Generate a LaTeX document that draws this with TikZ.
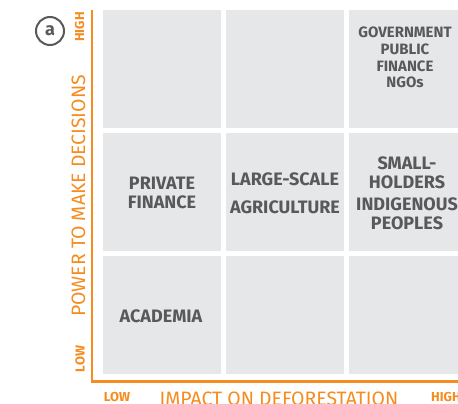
\documentclass[tikz,border=0pt]{standalone}
\usepackage{fontspec}
\setmainfont{Fira Sans}
\definecolor{orng}{HTML}{F68B1F}
\definecolor{txtgray}{HTML}{58595B}
\definecolor{cellgray}{HTML}{E6E7E8}
\begin{document}
\begin{tikzpicture}[x=1pt,y=-1pt,
  cell/.style={fill=cellgray,minimum size=118pt,inner sep=0pt,outer sep=0pt},
  celltxt/.style={text=txtgray,font=\bfseries\fontsize{18}{20}\selectfont,anchor=base,inner sep=0pt},
  smalltxt/.style={text=txtgray,font=\bfseries\fontsize{15}{17}\selectfont,anchor=base,inner sep=0pt},
  axtitle/.style={text=orng,font=\fontsize{19.4}{21}\selectfont,inner sep=0pt},
  axend/.style={text=orng,font=\bfseries\fontsize{13}{15}\selectfont,inner sep=0pt},
  axline/.style={draw=orng,line width=2.5pt}]
\useasboundingbox (0,0) rectangle (458,404);
% cells
\node[cell] (c11) at (162,69) {};
\node[cell] (c12) at (285,69) {};
\node[cell] (c13) at (408,69) {};
\node[cell] (c21) at (162,192) {};
\node[cell] (c22) at (285,192) {};
\node[cell] (c23) at (408,192) {};
\node[cell] (c31) at (162,315) {};
\node[cell] (c32) at (285,315) {};
\node[cell] (c33) at (408,315) {};
% cell texts
\node[smalltxt] (gov1) at (405,37.5) {GOVERNMENT};
\node[smalltxt] (gov2) at (405,54.5) {PUBLIC};
\node[smalltxt] (gov3) at (405,71.5) {FINANCE};
\node[smalltxt] (gov4) at (405,87.5) {NGOs};
\node[celltxt] (pf1) at (162,189.2) {PRIVATE};
\node[celltxt] (pf2) at (162,208.5) {FINANCE};
\node[celltxt] (ls1) at (285,185.8) {LARGE-SCALE};
\node[celltxt] (ls2) at (285,213.2) {AGRICULTURE};
\node[celltxt] (sh1) at (407,169.9) {SMALL-};
\node[celltxt] (sh2) at (407,188.6) {HOLDERS};
\node[celltxt] (sh3) at (407,210.2) {INDIGENOUS};
\node[celltxt] (sh4) at (407,229.2) {PEOPLES};
\node[celltxt] (ac) at (161,322.2) {ACADEMIA};
% axes
\coordinate (ytop) at (92,10);
\coordinate (orig) at (92,381.5);
\coordinate (xend) at (470,381.5);
\draw[axline] (ytop) -- (orig) -- (xend);
\node[axtitle,rotate=90] (ytitle) at (78.5,196) {POWER TO MAKE DECISIONS};
\node[axtitle] (xtitle) at (279,398.5) {IMPACT ON DEFORESTATION};
\node[axend,rotate=90] (yhigh) at (79.5,27) {HIGH};
\node[axend,rotate=90] (ylow) at (80,359) {LOW};
\node[axend] (xlow) at (117,397) {LOW};
\node[axend,anchor=west] (xhigh) at (431,397) {HIGH};
% panel label
\node[circle,draw=txtgray,line width=2pt,minimum size=28pt,inner sep=0pt,text=txtgray,font=\bfseries\fontsize{18}{20}\selectfont] (lbl) at (50,31) {a};
\end{tikzpicture}
\end{document}
